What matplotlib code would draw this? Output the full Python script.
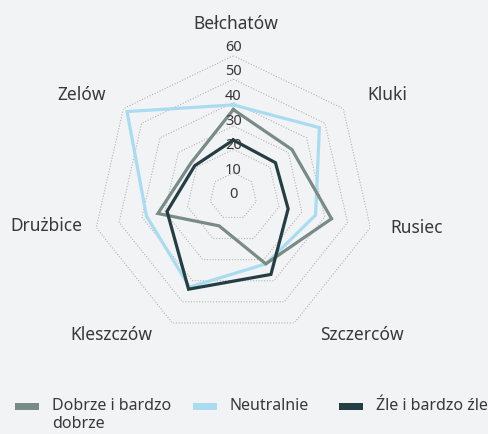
import numpy as np
import matplotlib
matplotlib.use('Agg')
import matplotlib.pyplot as plt
from matplotlib.patches import Rectangle

plt.rcParams['font.family'] = ['Noto Sans', 'DejaVu Sans']

# ----------------------------------------------------------------------------
# Data (percent of answers per commune)
# ----------------------------------------------------------------------------
categories = ['Bełchatów', 'Kluki', 'Rusiec', 'Szczerców', 'Kleszczów', 'Drużbice', 'Zelów']
series_names = ['Dobrze i bardzo\ndobrze', 'Neutralnie', 'Źle i bardzo źle']
dobrze     = [37, 32, 43, 32, 14, 33, 23]
neutralnie = [39, 47, 36, 32, 43, 38, 58]
zle        = [24, 23, 24, 37, 44, 29, 21]
r_ticks = [0, 10, 20, 30, 40, 50, 60]

colors = ['#788b85', '#a9dcf1', '#243e43']
zorders = [3, 2, 4]
BG = '#f2f3f5'
TXT = '#383838'

W, H = 489, 435
fig = plt.figure(figsize=(W / 100, H / 100), dpi=100, facecolor=BG)

# radar centre and outer radius in pixels
cx, cy, R = 233.3, 197.3, 140.6
ax = fig.add_axes([(cx - R) / W, (H - cy - R) / H, 2 * R / W, 2 * R / H],
                  projection='polar')
ax.set_facecolor('none')
ax.set_theta_offset(np.pi / 2)
ax.set_theta_direction(-1)
ax.set_ylim(0, 60)
ax.grid(False)
ax.spines['polar'].set_visible(False)
ax.set_xticks([])
ax.set_yticks([])

n = len(categories)
theta = np.linspace(0, 2 * np.pi, n, endpoint=False)
theta_c = np.append(theta, theta[0])

# heptagonal grid rings
for v in r_ticks[1:]:
    ax.plot(theta_c, [v] * (n + 1), color='#b5b5b5', lw=0.8,
            ls=(0, (1, 1.5)), zorder=1)

# tick labels on the top axis
for v in r_ticks:
    ax.text(0, v * 1.05 + 1, str(v), ha='center', va='center', fontsize=10.5,
            color=TXT, zorder=5)

for vals, col, z in zip([dobrze, neutralnie, zle], colors, zorders):
    ax.plot(theta_c, vals + vals[:1], color=col, lw=2.3, zorder=z,
            solid_joinstyle='miter')

# category labels (pixel positions of label centres)
label_pos = [(236, 24), (387, 95), (417, 228), (362, 335),
             (111, 335), (46, 226), (82, 95)]
for name, (x, y) in zip(categories, label_pos):
    fig.text(x / W, 1 - y / H, name, ha='center', va='center',
             fontsize=12.5, color=TXT)

# legend
leg_x = [15, 193, 339]
for name, col, x in zip(series_names, colors, leg_x):
    fig.add_artist(Rectangle((x / W, 1 - 411 / H), 24 / W, 7 / H,
                             transform=fig.transFigure, color=col, lw=0))
    fig.text((x + 37) / W, 1 - 398 / H, name, ha='left', va='top',
             fontsize=11.5, color=TXT, linespacing=1.15)

fig.savefig('out.png', dpi=100, facecolor=BG)
